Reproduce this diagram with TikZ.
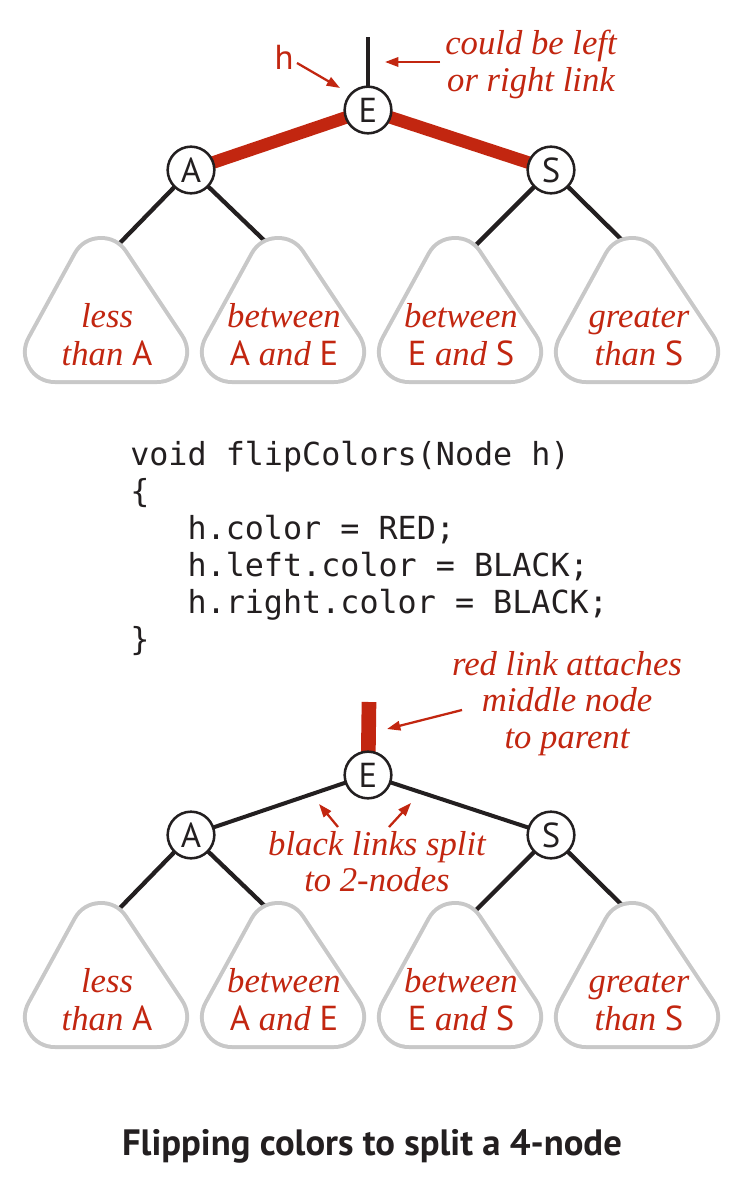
\documentclass[tikz,border=0pt]{standalone}
\usepackage{fontspec}
\setmainfont{Liberation Serif}
\newfontfamily\sansf{PT Sans}
\newfontfamily\codef{DejaVu Sans Mono}
\usetikzlibrary{arrows.meta,backgrounds}
\definecolor{lred}{RGB}{194,38,16}
\definecolor{tgray}{RGB}{200,200,200}
\definecolor{ink}{RGB}{35,31,32}
\newcommand\letr[1]{{\upshape\sansf #1}}
\tikzset{
  circ/.style={circle, draw=ink, line width=1.9pt, fill=white, minimum size=35pt, inner sep=0pt,
    font=\sansf\fontsize{26}{26}\selectfont, text=ink},
  lbl/.style={text=lred, inner sep=0pt, anchor=base, font=\fontsize{26}{27.5}\selectfont\itshape},
  trilbl/.style={text=lred, inner sep=0pt, anchor=base, font=\fontsize{26}{28.5}\selectfont\itshape},
  redarrow/.style={draw=lred, line width=1.7pt, -{Triangle[length=10pt,width=7pt]}},
  redlink/.style={draw=lred, line width=9.5pt},
  blacklink/.style={draw=ink, line width=3pt},
  childlink/.style={draw=ink, line width=3.2pt},
  tri/.pic={
    \draw[tgray, line width=48pt, line join=round] (-5,-84) -- (-51,0) -- (51,0) -- cycle;
    \filldraw[white, line width=42pt, line join=round] (-5,-84) -- (-51,0) -- (51,0) -- cycle;
  }
}
\begin{document}
\begin{tikzpicture}[x=0.75pt,y=-0.75pt]
\begin{scope}[on background layer]
  \fill[white] (0,0) rectangle (740,1184);
\end{scope}
\useasboundingbox (0,0) rectangle (740,1184);

% ---------- top tree ----------
\node[circ] (E1) at (368,110) {E};
\node[circ] (A1) at (191,170) {A};
\node[circ] (S1) at (551,170) {S};
\coordinate (top1) at (368,37);
\coordinate (c11) at (116,247);
\coordinate (c12) at (270,246);
\coordinate (c13) at (470,251);
\coordinate (c14) at (628,246);
\begin{scope}[on background layer]
  \draw[draw=ink, line width=2.6pt] (E1.center) -- (top1);
  \draw[redlink] (E1.center) -- (A1.center);
  \draw[redlink] (E1.center) -- (S1.center);
  \draw[childlink] (A1.center) -- (c11);
  \draw[childlink] (A1.center) -- (c12);
  \draw[childlink] (S1.center) -- (c13);
  \draw[childlink] (S1.center) -- (c14);
  \pic at (106,352) {tri};
  \pic at (283,352) {tri};
  \pic at (460,352) {tri};
  \pic at (637,352) {tri};
\end{scope}
\node[trilbl] (t1) at (107,327) {\begin{tabular}[t]{@{}c@{}}less\\than \letr{A}\end{tabular}};
\node[trilbl] (t2) at (284,327) {\begin{tabular}[t]{@{}c@{}}between\\\letr{A} and \letr{E}\end{tabular}};
\node[trilbl] (t3) at (461,327) {\begin{tabular}[t]{@{}c@{}}between\\\letr{E} and \letr{S}\end{tabular}};
\node[trilbl] (t4) at (639,327) {\begin{tabular}[t]{@{}c@{}}greater\\than \letr{S}\end{tabular}};

\node[text=lred, inner sep=0pt, anchor=base, font=\sansf\fontsize{26}{26}\selectfont] (hlab) at (284,70) {h};
\coordinate (hs) at (297,63);
\coordinate (he) at (340,88);
\draw[redarrow] (hs) -- (he);
\node[lbl] (could) at (531,55) {\begin{tabular}[t]{@{}c@{}}could be left\\or right link\end{tabular}};
\coordinate (cs) at (440,62);
\coordinate (ce) at (385,62);
\draw[redarrow] (cs) -- (ce);

% ---------- code ----------
\node[inner sep=0pt, anchor=base west, text=ink, font=\codef\fontsize{23.8}{27.75}\selectfont] (code) at (130,465)
{\begin{tabular}[t]{@{}l@{}}void flipColors(Node h)\\
\{\\
\phantom{xxx}h.color = RED;\\
\phantom{xxx}h.left.color = BLACK;\\
\phantom{xxx}h.right.color = BLACK;\\
\}\end{tabular}};

% ---------- bottom tree ----------
\node[circ] (E2) at (368,775) {E};
\node[circ] (A2) at (191,835) {A};
\node[circ] (S2) at (551,835) {S};
\coordinate (top2) at (369,702);
\coordinate (c21) at (116,912);
\coordinate (c22) at (270,911);
\coordinate (c23) at (470,916);
\coordinate (c24) at (628,911);
\begin{scope}[on background layer]
  \draw[draw=lred, line width=11pt] (E2.center) -- (top2);
  \draw[blacklink] (E2.center) -- (A2.center);
  \draw[blacklink] (E2.center) -- (S2.center);
  \draw[childlink] (A2.center) -- (c21);
  \draw[childlink] (A2.center) -- (c22);
  \draw[childlink] (S2.center) -- (c23);
  \draw[childlink] (S2.center) -- (c24);
  \pic at (106,1017) {tri};
  \pic at (283,1017) {tri};
  \pic at (460,1017) {tri};
  \pic at (637,1017) {tri};
\end{scope}
\node[trilbl] (b1) at (107,992) {\begin{tabular}[t]{@{}c@{}}less\\than \letr{A}\end{tabular}};
\node[trilbl] (b2) at (284,992) {\begin{tabular}[t]{@{}c@{}}between\\\letr{A} and \letr{E}\end{tabular}};
\node[trilbl] (b3) at (461,992) {\begin{tabular}[t]{@{}c@{}}between\\\letr{E} and \letr{S}\end{tabular}};
\node[trilbl] (b4) at (639,992) {\begin{tabular}[t]{@{}c@{}}greater\\than \letr{S}\end{tabular}};

\node[lbl] (redlab) at (567,675) {\begin{tabular}[t]{@{}c@{}}red link attaches\\middle node\\to parent\end{tabular}};
\coordinate (rs) at (462,710);
\coordinate (re) at (387,729);
\draw[redarrow] (rs) -- (re);
\node[lbl] (blacklab) at (377,855) {\begin{tabular}[t]{@{}c@{}}black links split\\to 2-nodes\end{tabular}};
\coordinate (bls) at (338,827);
\coordinate (ble) at (319,804);
\coordinate (brs) at (389,827);
\coordinate (bre) at (411,803);
\draw[redarrow] (bls) -- (ble);
\draw[redarrow] (brs) -- (bre);

% ---------- caption ----------
\node[inner sep=0pt, anchor=base, text=ink, font=\sansf\bfseries\fontsize{27.5}{30}\selectfont] (cap) at (372,1155)
{Flipping colors to split a 4-node};
\end{tikzpicture}
\end{document}
